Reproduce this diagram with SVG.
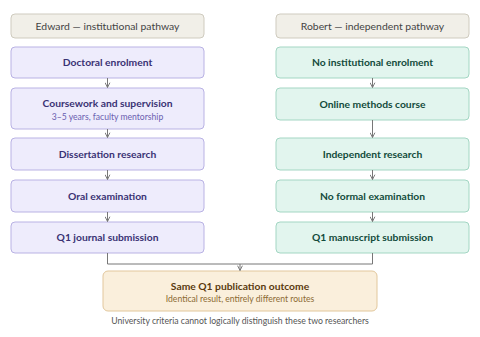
<svg xmlns="http://www.w3.org/2000/svg" width="480" height="337" viewBox="0 0 480 337">
<defs>
<marker id="ah" viewBox="0 0 10 10" refX="9" refY="5" markerWidth="6" markerHeight="6" orient="auto-start-reverse">
<path d="M1 1 L9 5 L1 9" fill="none" stroke="#777" stroke-width="1.6"/>
</marker>
<style>
text{font-family:Lato,"Open Sans",sans-serif;text-anchor:middle}
.hd rect{fill:#f1efe8;stroke:#cfcbbf;stroke-width:1}
.hd text{fill:#444;font-size:10.4px;font-weight:400}
.l rect{fill:#eeecfc;stroke:#b9b2e4;stroke-width:1}
.l text{fill:#3a3274;font-size:10.3px;font-weight:700}
.r rect{fill:#e2f5ee;stroke:#a3d6c3;stroke-width:1}
.r text{fill:#124b3b;font-size:10.3px;font-weight:700}
.sub{font-size:8.6px!important;font-weight:400!important}
.l .sub{fill:#6a60b0!important}
.o rect{fill:#faefdc;stroke:#e2c79c;stroke-width:1}
.o text{fill:#5b3a0f;font-size:10.3px;font-weight:700}
.o .sub{fill:#8c6a33!important}
.cn{stroke:#777;stroke-width:1;fill:none}
.cap{fill:#555;font-size:8.7px}
</style>
</defs>
<g id="edward-header" class="hd"><rect x="11" y="14" width="193" height="24" rx="4"/><text x="107.5" y="29.5">Edward — institutional pathway</text></g>
<g id="robert-header" class="hd"><rect x="276" y="14" width="193" height="24" rx="4"/><text x="372.5" y="29.5">Robert — independent pathway</text></g>

<g id="e1" class="l"><rect x="11" y="47" width="193" height="31" rx="4"/><text x="107.5" y="66">Doctoral enrolment</text></g>
<g id="e2" class="l"><rect x="11" y="88" width="193" height="41" rx="4"/><text x="107.5" y="106.5">Coursework and supervision</text><text class="sub" x="107.5" y="119.5">3–5 years, faculty mentorship</text></g>
<g id="e3" class="l"><rect x="11" y="138" width="193" height="32" rx="4"/><text x="107.5" y="157.5">Dissertation research</text></g>
<g id="e4" class="l"><rect x="11" y="180" width="193" height="32" rx="4"/><text x="107.5" y="199.5">Oral examination</text></g>
<g id="e5" class="l"><rect x="11" y="222" width="193" height="31" rx="4"/><text x="107.5" y="241">Q1 journal submission</text></g>

<g id="r1" class="r"><rect x="276" y="47" width="193" height="31" rx="4"/><text x="372.5" y="66">No institutional enrolment</text></g>
<g id="r2" class="r"><rect x="276" y="88" width="193" height="32" rx="4"/><text x="372.5" y="107.5">Online methods course</text></g>
<g id="r3" class="r"><rect x="276" y="138" width="193" height="32" rx="4"/><text x="372.5" y="157.5">Independent research</text></g>
<g id="r4" class="r"><rect x="276" y="180" width="193" height="32" rx="4"/><text x="372.5" y="199.5">No formal examination</text></g>
<g id="r5" class="r"><rect x="276" y="222" width="193" height="31" rx="4"/><text x="372.5" y="241">Q1 manuscript submission</text></g>

<g id="outcome" class="o"><rect x="103" y="271" width="274" height="40" rx="5"/><text x="240" y="289.5">Same Q1 publication outcome</text><text class="sub" x="240" y="302">Identical result, entirely different routes</text></g>

<g id="connectors">
<line class="cn" x1="107.5" y1="78" x2="107.5" y2="87.5" marker-end="url(#ah)"/>
<line class="cn" x1="107.5" y1="129" x2="107.5" y2="137.5" marker-end="url(#ah)"/>
<line class="cn" x1="107.5" y1="170" x2="107.5" y2="179.5" marker-end="url(#ah)"/>
<line class="cn" x1="107.5" y1="212" x2="107.5" y2="221.5" marker-end="url(#ah)"/>
<line class="cn" x1="372.5" y1="78" x2="372.5" y2="87.5" marker-end="url(#ah)"/>
<line class="cn" x1="372.5" y1="120" x2="372.5" y2="137.5" marker-end="url(#ah)"/>
<line class="cn" x1="372.5" y1="170" x2="372.5" y2="179.5" marker-end="url(#ah)"/>
<line class="cn" x1="372.5" y1="212" x2="372.5" y2="221.5" marker-end="url(#ah)"/>
<polyline class="cn" points="107.5,253 107.5,264 372.5,264 372.5,253"/>
<line class="cn" x1="240" y1="264" x2="240" y2="270.5" marker-end="url(#ah)"/>
</g>
<text class="cap" x="240" y="323.5">University criteria cannot logically distinguish these two researchers</text>
</svg>
